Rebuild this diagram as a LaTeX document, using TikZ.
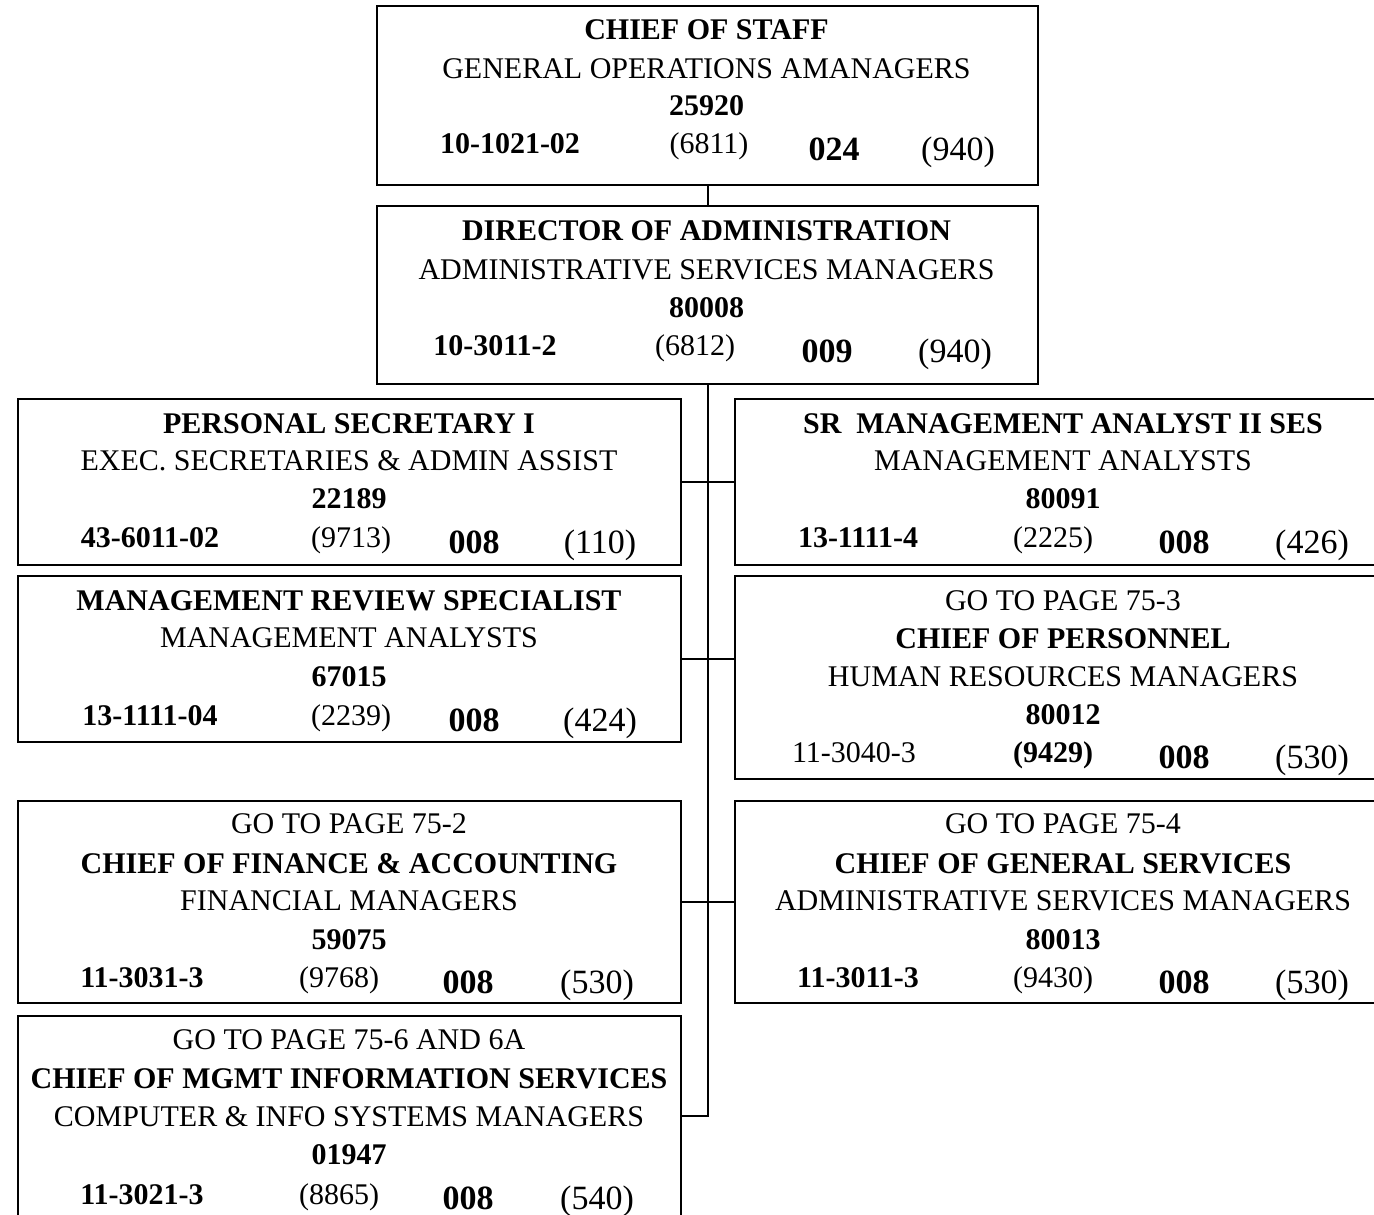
\documentclass[tikz,border=0pt]{standalone}
\usepackage{fontspec}
\setmainfont{Liberation Serif}
\begin{document}
\begin{tikzpicture}[x=1pt,y=-1pt,
  box/.style={draw, line width=2.2pt, inner sep=0pt, anchor=north west},
  conn/.style={line width=2pt},
  tr/.style={anchor=base, inner sep=0pt, font=\fontsize{30}{36}\selectfont},
  tb/.style={anchor=base, inner sep=0pt, font=\fontsize{30}{36}\selectfont\bfseries},
  br/.style={anchor=base, inner sep=0pt, font=\fontsize{34}{40}\selectfont},
  bb/.style={anchor=base, inner sep=0pt, font=\fontsize{34}{40}\selectfont\bfseries}]
\useasboundingbox (0,0) rectangle (1374,1215);
\clip (0,0) rectangle (1374,1215);
\fill[white] (0,0) rectangle (1374,1215);

% boxes
\node[box, minimum width=661pt, minimum height=179pt] (cos) at (376,5) {};
\node[box, minimum width=661pt, minimum height=178pt] (doa) at (376,205) {};
\node[box, minimum width=663pt, minimum height=166pt] (ps) at (17,398) {};
\node[box, minimum width=663pt, minimum height=166pt] (mr) at (17,575) {};
\node[box, minimum width=663pt, minimum height=202pt] (fin) at (17,800) {};
\node[box, minimum width=663pt, minimum height=200pt] (mis) at (17,1015) {};
\node[box, minimum width=660pt, minimum height=166pt] (sr) at (734,398) {};
\node[box, minimum width=660pt, minimum height=203pt] (pers) at (734,575) {};
\node[box, minimum width=660pt, minimum height=202pt] (gen) at (734,800) {};

% connectors
\coordinate (trunk) at (doa.south |- mis.east);
\draw[conn] (cos.south) -- (doa.north);
\draw[conn] (doa.south) -- (trunk) -- (mis.east);
\draw[conn] (ps.east) -- (sr.west);
\draw[conn] (mr.east) -- (mr.east -| pers.west);
\draw[conn] (fin.east) -- (gen.west);

% Chief of staff
\node[tb] (c1) at (706.5,40) {CHIEF OF STAFF};
\node[tr] (c2) at (706.5,78) {GENERAL OPERATIONS AMANAGERS};
\node[tb] (c3) at (706.5,115) {25920};
\node[tb] (c4) at (510,153) {10-1021-02};
\node[tr] (c5) at (709,153) {(6811)};
\node[bb] (c6) at (834,160) {024};
\node[br] (c7) at (958,160) {(940)};

% Director of administration
\node[tb] (d1) at (706.5,240) {DIRECTOR OF ADMINISTRATION};
\node[tr] (d2) at (706.5,279) {ADMINISTRATIVE SERVICES MANAGERS};
\node[tb] (d3) at (706.5,317) {80008};
\node[tb] (d4) at (495,355) {10-3011-2};
\node[tr] (d5) at (695,355) {(6812)};
\node[bb] (d6) at (827,362) {009};
\node[br] (d7) at (955,362) {(940)};

% Personal secretary
\node[tb] (p1) at (349,433) {PERSONAL SECRETARY I};
\node[tr] (p2) at (349,470) {EXEC. SECRETARIES \& ADMIN ASSIST};
\node[tb] (p3) at (349,508) {22189};
\node[tb] (p4) at (150,547) {43-6011-02};
\node[tr] (p5) at (351,547) {(9713)};
\node[bb] (p6) at (474,553) {008};
\node[br] (p7) at (600,553) {(110)};

% Management review
\node[tb] (m1) at (349,610) {MANAGEMENT REVIEW SPECIALIST};
\node[tr] (m2) at (349,647) {MANAGEMENT ANALYSTS};
\node[tb] (m3) at (349,686) {67015};
\node[tb] (m4) at (150,725) {13-1111-04};
\node[tr] (m5) at (351,725) {(2239)};
\node[bb] (m6) at (474,731) {008};
\node[br] (m7) at (600,731) {(424)};

% Finance
\node[tr] (f0) at (349,833) {GO TO PAGE 75-2};
\node[tb] (f1) at (349,873) {CHIEF OF FINANCE \& ACCOUNTING};
\node[tr] (f2) at (349,910) {FINANCIAL MANAGERS};
\node[tb] (f3) at (349,949) {59075};
\node[tb] (f4) at (142,987) {11-3031-3};
\node[tr] (f5) at (339,987) {(9768)};
\node[bb] (f6) at (468,993) {008};
\node[br] (f7) at (597,993) {(530)};

% MIS
\node[tr] (i0) at (349,1049) {GO TO PAGE 75-6 AND 6A};
\node[tb] (i1) at (349,1088) {CHIEF OF MGMT INFORMATION SERVICES};
\node[tr] (i2) at (349,1126) {COMPUTER \& INFO SYSTEMS MANAGERS};
\node[tb] (i3) at (349,1164) {01947};
\node[tb] (i4) at (142,1204) {11-3021-3};
\node[tr] (i5) at (339,1204) {(8865)};
\node[bb] (i6) at (468,1209) {008};
\node[br] (i7) at (597,1209) {(540)};

% SR management analyst
\node[tb] (s1) at (1063,433) {SR\ \ MANAGEMENT ANALYST II SES};
\node[tr] (s2) at (1063,470) {MANAGEMENT ANALYSTS};
\node[tb] (s3) at (1063,508) {80091};
\node[tb] (s4) at (858,547) {13-1111-4};
\node[tr] (s5) at (1053,547) {(2225)};
\node[bb] (s6) at (1184,553) {008};
\node[br] (s7) at (1312,553) {(426)};

% Personnel
\node[tr] (r0) at (1063,610) {GO TO PAGE 75-3};
\node[tb] (r1) at (1063,648) {CHIEF OF PERSONNEL};
\node[tr] (r2) at (1063,686) {HUMAN RESOURCES MANAGERS};
\node[tb] (r3) at (1063,724) {80012};
\node[tr] (r4) at (854,762) {11-3040-3};
\node[tb] (r5) at (1053,762) {(9429)};
\node[bb] (r6) at (1184,768) {008};
\node[br] (r7) at (1312,768) {(530)};

% General services
\node[tr] (g0) at (1063,833) {GO TO PAGE 75-4};
\node[tb] (g1) at (1063,873) {CHIEF OF GENERAL SERVICES};
\node[tr] (g2) at (1063,910) {ADMINISTRATIVE SERVICES MANAGERS};
\node[tb] (g3) at (1063,949) {80013};
\node[tb] (g4) at (858,987) {11-3011-3};
\node[tr] (g5) at (1053,987) {(9430)};
\node[bb] (g6) at (1184,993) {008};
\node[br] (g7) at (1312,993) {(530)};
\end{tikzpicture}
\end{document}
